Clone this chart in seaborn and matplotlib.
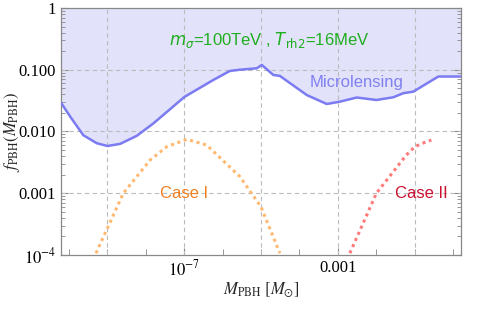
import numpy as np
import pandas as pd
import matplotlib
matplotlib.use("Agg")
import matplotlib.pyplot as plt
import matplotlib.ticker as mticker
import seaborn as sns

# Microlensing bound (log10 M, log10 f)
micro_logm = [-10.19, -9.96, -9.62, -9.27, -8.99, -8.66, -8.23, -7.80, -6.99, -6.24,
              -5.81, -5.55, -5.11, -4.98, -4.68, -4.51, -3.81, -3.29, -2.95, -2.51,
              -2.00, -1.56, -1.30, -1.04, -0.39, 0.19]
micro_logf = [-1.544, -1.76, -2.06, -2.19, -2.235, -2.20, -2.07, -1.87, -1.44, -1.166,
              -1.02, -1.00, -0.977, -0.923, -1.085, -1.10, -1.41, -1.555, -1.517, -1.45,
              -1.49, -1.446, -1.38, -1.355, -1.11, -1.11]

# Case I (orange dotted)
case1_logm = [-9.29, -8.58, -7.88, -7.45, -6.93, -6.41, -5.55, -5.00, -4.51]
case1_logf = [-3.97, -3.00, -2.46, -2.246, -2.127, -2.22, -2.73, -3.22, -3.97]

# Case II (red dotted)
case2_logm = [-2.69, -2.00, -1.22, -1.00, -0.70, -0.57]
case2_logf = [-3.97, -3.00, -2.38, -2.246, -2.165, -2.14]

yticks = [1e-4, 1e-3, 1e-2, 1e-1, 1]
ytick_labels = [r"$10^{-4}$", "0.001", "0.010", "0.100", "1"]
xticks = [1e-7, 1e-3]
xtick_labels = [r"$10^{-7}$", "0.001"]

sns.set_style("ticks")
plt.rcParams["mathtext.fontset"] = "stix"
plt.rcParams["font.family"] = ["Liberation Serif", "DejaVu Serif"]

micro = pd.DataFrame({"M": 10 ** np.array(micro_logm), "f": 10 ** np.array(micro_logf)})
case1 = pd.DataFrame({"M": 10 ** np.array(case1_logm), "f": 10 ** np.array(case1_logf)})
case2 = pd.DataFrame({"M": 10 ** np.array(case2_logm), "f": 10 ** np.array(case2_logf)})

fig = plt.figure(figsize=(4.92, 3.18), dpi=100)
ax = fig.add_axes([0.124, 0.198, 0.813, 0.777])
ax.set_xscale("log")
ax.set_yscale("log")
xmin, xmax = 10 ** -10.2, 10 ** 0.2
ax.set_xlim(xmin, xmax)
ax.set_ylim(1e-4, 1)

ax.fill_between(micro["M"], micro["f"], 1, color="#e2e2fb", lw=0, zorder=0)
sns.lineplot(data=micro, x="M", y="f", ax=ax, color="#7b7bf2", lw=1.8, sort=False, zorder=3)
sns.lineplot(data=case1, x="M", y="f", ax=ax, color="#ffb870", lw=2.2,
             linestyle=(0, (1.0, 1.2)), sort=False, zorder=3)
sns.lineplot(data=case2, x="M", y="f", ax=ax, color="#ff7a7a", lw=2.2,
             linestyle=(0, (1.0, 1.2)), sort=False, zorder=3)

# grid
for gx in [1e-9, 1e-7, 1e-5, 1e-3, 1e-1]:
    ax.axvline(gx, color="#bbbbbb", lw=0.8, ls=(0, (4, 3)), zorder=1)
for gy in [1e-3, 1e-2, 1e-1]:
    ax.axhline(gy, color="#bbbbbb", lw=0.8, ls=(0, (4, 3)), zorder=1)

ax.set_yticks(yticks)
ax.set_yticklabels(ytick_labels)
ax.yaxis.set_minor_locator(mticker.LogLocator(base=10, subs=np.arange(2, 10), numticks=20))
ax.yaxis.set_minor_formatter(mticker.NullFormatter())
ax.xaxis.set_major_locator(mticker.FixedLocator(xticks))
ax.set_xticklabels(xtick_labels)
ax.xaxis.set_minor_locator(mticker.FixedLocator([10.0 ** k for k in range(-10, 1)]))
ax.xaxis.set_minor_formatter(mticker.NullFormatter())
ax.tick_params(which="both", direction="in", colors="#888888", labelcolor="black",
               labelsize=12, right=True, top=False)
ax.tick_params(which="major", length=5, width=0.8)
ax.tick_params(which="minor", length=3, width=0.6)
ax.tick_params(axis="x", which="minor", length=4)
for sp in ax.spines.values():
    sp.set_color("#888888")
    sp.set_linewidth(0.9)

ax.set_xlabel(r"$M_{\rm PBH}\ [M_{\odot}]$", fontsize=12)
ax.set_ylabel(r"$f_{\rm PBH}(M_{\rm PBH})$", fontsize=12)
ax.xaxis.set_label_coords(0.5, -0.1)
ax.yaxis.set_label_coords(-0.097, 0.5)

ax.text(10 ** -4.79, 10 ** -0.518, r"$m_{\sigma}$=100TeV , $T_{\rm rh2}$=16MeV",
        color="#1fae1f", fontsize=12, ha="center", va="center", family="Liberation Sans",
        math_fontfamily="dejavusans")
ax.text(10 ** -2.51, 10 ** -1.20, "Microlensing", color="#8080f2", fontsize=12,
        ha="center", va="center", family="Liberation Sans")
ax.text(10 ** -7.0, 10 ** -3.0, "Case I", color="#f08020", fontsize=12,
        ha="center", va="center", family="Liberation Sans")
ax.text(10 ** -0.82, 10 ** -3.0, "Case II", color="#cc1030", fontsize=12,
        ha="center", va="center", family="Liberation Sans")

fig.savefig("out.png", dpi=100)
